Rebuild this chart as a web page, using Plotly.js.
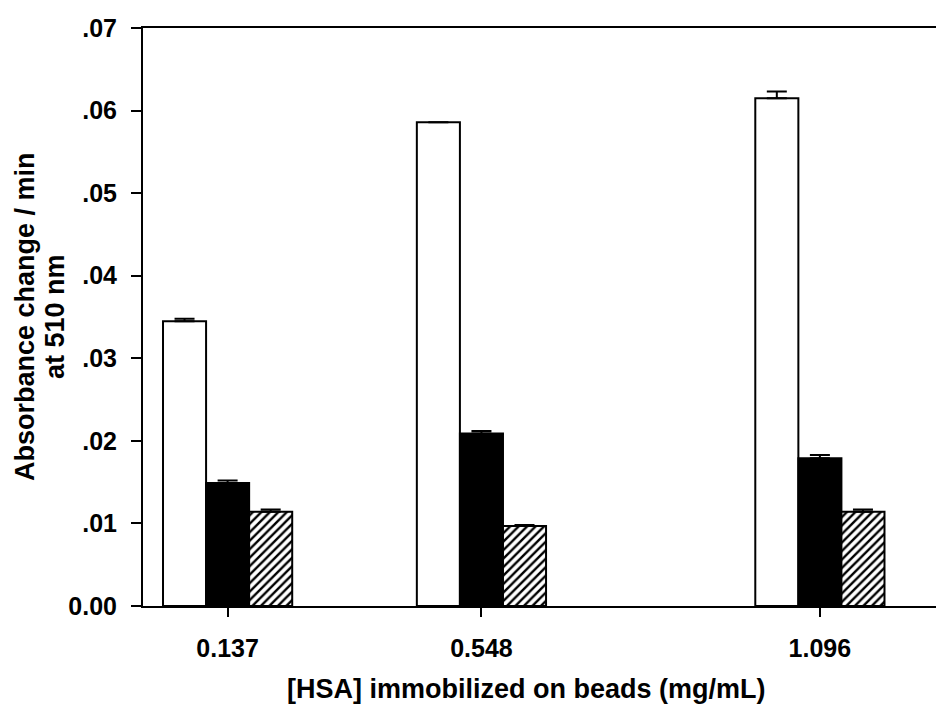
<!DOCTYPE html>
<html>
<head>
<meta charset="utf-8">
<script src="https://cdn.plot.ly/plotly-3.0.1.min.js"></script>
<style>html,body{margin:0;padding:0;background:#fff;}#chart{width:936px;height:708px;}</style>
</head>
<body>
<div id="chart"></div>
<script>
// Data
const hsaConc = [0.137, 0.548, 1.096];
const hsaTickText = ["0.137", "0.548", "1.096"];
const whiteValues = [0.0345, 0.0586, 0.0615];
const whiteErrors = [0.0003, 0.0000, 0.0008];
const blackValues = [0.0149, 0.0209, 0.0179];
const blackErrors = [0.0003, 0.0003, 0.0004];
const hatchedValues = [0.0114, 0.0097, 0.0114];
const hatchedErrors = [0.0003, 0.0001, 0.0003];
const yTickVals = [0, 0.01, 0.02, 0.03, 0.04, 0.05, 0.06, 0.07];
const yTickText = ["0.00", ".01", ".02", ".03", ".04", ".05", ".06", ".07"];
const xTitle = "[HSA] immobilized on beads (mg/mL)";
const yTitleLines = ["Absorbance change / min", "at 510 nm"];

const fontFam = "'Liberation Sans', Arial, Helvetica, sans-serif";
const titleFont = {family: fontFam, size: 27, color: '#000', weight: 700};
const errStyle = (arr) => ({type: 'data', symmetric: false, array: arr,
  arrayminus: arr.map(() => 0), color: '#000', thickness: 2, width: 10});
const outline = {color: '#000', width: 2};

const traces = [
  {type: 'bar', x: hsaConc, y: whiteValues, name: 'white',
   marker: {color: '#ffffff', line: outline}, error_y: errStyle(whiteErrors)},
  {type: 'bar', x: hsaConc, y: blackValues, name: 'black',
   marker: {color: '#000000', line: outline}, error_y: errStyle(blackErrors)},
  {type: 'bar', x: hsaConc, y: hatchedValues, name: 'hatched',
   marker: {color: '#ffffff', line: outline,
            pattern: {shape: '/', size: 6, solidity: 0.4, fgcolor: '#000', bgcolor: '#fff'}},
   error_y: errStyle(hatchedErrors)}
];

const layout = {
  width: 936, height: 708,
  margin: {l: 143, r: 0, t: 28, b: 102},
  paper_bgcolor: '#ffffff', plot_bgcolor: '#ffffff',
  showlegend: false,
  barmode: 'group', bargap: 0.491, bargroupgap: 0,
  font: {family: fontFam, size: 25, color: '#000', weight: 700},
  xaxis: {
    type: 'linear', range: [0, 1.284], tickmode: 'array',
    tickvals: hsaConc, ticktext: hsaTickText,
    showgrid: false, zeroline: false,
    showline: true, linecolor: '#000', linewidth: 2, mirror: true,
    ticks: 'outside', ticklen: 9, tickwidth: 2, tickcolor: '#000',
    ticklabelstandoff: 10,
    tickfont: {family: fontFam, size: 25, color: '#000', weight: 700}
  },
  yaxis: {
    range: [0, 0.07], tickmode: 'array',
    tickvals: yTickVals, ticktext: yTickText,
    showgrid: false, zeroline: false,
    showline: true, linecolor: '#000', linewidth: 2,
    ticks: 'outside', ticklen: 10, tickwidth: 2, tickcolor: '#000',
    ticklabelstandoff: 9,
    tickfont: {family: fontFam, size: 25, color: '#000', weight: 700}
  },
  annotations: [
    {text: xTitle, xref: 'paper', yref: 'paper', x: 0.4842, y: -0.1436,
     xanchor: 'center', yanchor: 'middle', showarrow: false, font: titleFont},
    {text: yTitleLines[0], xref: 'paper', yref: 'paper', x: (25 - 143) / 793, y: 0.5,
     xanchor: 'center', yanchor: 'middle', textangle: -90, showarrow: false, font: titleFont},
    {text: yTitleLines[1], xref: 'paper', yref: 'paper', x: (55 - 143) / 793, y: 0.5,
     xanchor: 'center', yanchor: 'middle', textangle: -90, showarrow: false, font: titleFont}
  ]
};

Plotly.newPlot('chart', traces, layout, {displayModeBar: false, staticPlot: true});
</script>
</body>
</html>
